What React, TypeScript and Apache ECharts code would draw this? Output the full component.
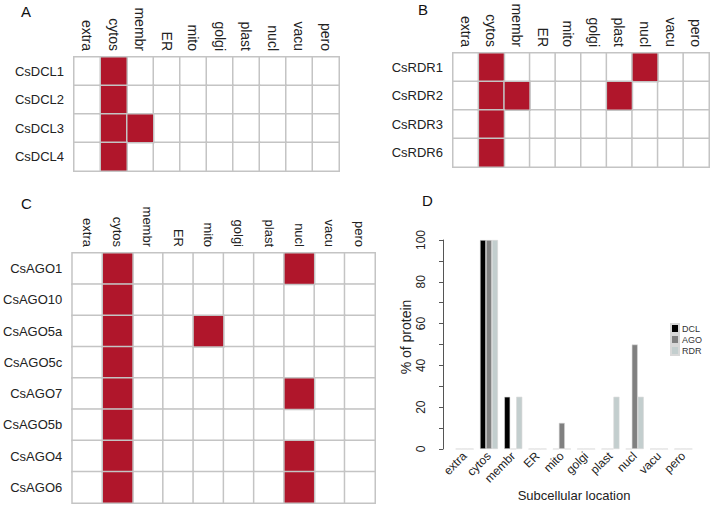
import React, { useEffect, useRef } from "react";
import * as echarts from "echarts";

const locations = ["extra", "cytos", "membr", "ER", "mito", "golgi", "plast", "nucl", "vacu", "pero"];

const dclGenes = ["CsDCL1", "CsDCL2", "CsDCL3", "CsDCL4"];
const dclMatrix = [
  [0, 1, 0, 0, 0, 0, 0, 0, 0, 0],
  [0, 1, 0, 0, 0, 0, 0, 0, 0, 0],
  [0, 1, 1, 0, 0, 0, 0, 0, 0, 0],
  [0, 1, 0, 0, 0, 0, 0, 0, 0, 0],
];

const rdrGenes = ["CsRDR1", "CsRDR2", "CsRDR3", "CsRDR6"];
const rdrMatrix = [
  [0, 1, 0, 0, 0, 0, 0, 1, 0, 0],
  [0, 1, 1, 0, 0, 0, 1, 0, 0, 0],
  [0, 1, 0, 0, 0, 0, 0, 0, 0, 0],
  [0, 1, 0, 0, 0, 0, 0, 0, 0, 0],
];

const agoGenes = ["CsAGO1", "CsAGO10", "CsAGO5a", "CsAGO5c", "CsAGO7", "CsAGO5b", "CsAGO4", "CsAGO6"];
const agoMatrix = [
  [0, 1, 0, 0, 0, 0, 0, 1, 0, 0],
  [0, 1, 0, 0, 0, 0, 0, 0, 0, 0],
  [0, 1, 0, 0, 1, 0, 0, 0, 0, 0],
  [0, 1, 0, 0, 0, 0, 0, 0, 0, 0],
  [0, 1, 0, 0, 0, 0, 0, 1, 0, 0],
  [0, 1, 0, 0, 0, 0, 0, 0, 0, 0],
  [0, 1, 0, 0, 0, 0, 0, 1, 0, 0],
  [0, 1, 0, 0, 0, 0, 0, 1, 0, 0],
];

const legendNames = ["DCL", "AGO", "RDR"];
const dclPercent = [0, 100, 25, 0, 0, 0, 0, 0, 0, 0];
const agoPercent = [0, 100, 0, 0, 12.5, 0, 0, 50, 0, 0];
const rdrPercent = [0, 100, 25, 0, 0, 0, 25, 25, 0, 0];

const RED = "#b0162b";
const FONT = "Liberation Sans, Arial, sans-serif";
const TXT = "#222";

function toCells(matrix: number[][]) {
  const out: number[][] = [];
  matrix.forEach((row, r) => row.forEach((v, c) => out.push([c, r, v])));
  out.sort((a, b) => a[2] - b[2]);
  return out;
}

export default function App() {
  const ref = useRef<HTMLDivElement>(null);
  useEffect(() => {
    if (!ref.current) return;
    const chart = echarts.init(ref.current, undefined, { renderer: "svg" });

    const grids = [
      { left: 74, top: 57, width: 265, height: 114 },
      { left: 453, top: 53, width: 256, height: 114 },
      { left: 69, top: 253, width: 306, height: 250 },
      { left: 452.5, top: 240, width: 243, height: 209 },
    ];
    const geneSets = [dclGenes, rdrGenes, agoGenes];
    const matrices = [dclMatrix, rdrMatrix, agoMatrix];
    const colFont = [14, 14, 13];

    const xAxes: any[] = [0, 1, 2].map((i) => ({
      type: "category",
      gridIndex: i,
      data: locations,
      position: "top",
      axisLine: { show: false },
      axisTick: { show: false },
      splitLine: { show: false },
      axisLabel: { rotate: 90, margin: 6, fontSize: colFont[i], color: TXT, fontFamily: FONT, interval: 0 },
    }));
    const yAxes: any[] = [0, 1, 2].map((i) => ({
      type: "category",
      gridIndex: i,
      data: geneSets[i],
      inverse: true,
      axisLine: { show: false },
      axisTick: { show: false },
      splitLine: { show: false },
      axisLabel: { margin: 10, fontSize: 13, color: TXT, fontFamily: FONT, interval: 0 },
    }));

    xAxes.push({
      type: "category",
      gridIndex: 3,
      data: locations,
      axisLine: { show: false },
      axisTick: { show: false },
      axisLabel: { rotate: 45, margin: 5, fontSize: 12, color: TXT, fontFamily: FONT, interval: 0 },
      name: "Subcellular location",
      nameLocation: "middle",
      nameGap: 40,
      nameMoveOverlap: false,
      nameTextStyle: { fontSize: 13, color: TXT, fontFamily: FONT },
    });
    yAxes.push({
      type: "value",
      gridIndex: 3,
      min: 0,
      max: 100,
      interval: 10,
      offset: 9.5,
      axisLine: { show: true, lineStyle: { color: "#555", width: 1 } },
      axisTick: { show: true, length: 4, lineStyle: { color: "#555" } },
      splitLine: { show: false },
      axisLabel: {
        rotate: 90,
        margin: 16,
        fontSize: 12,
        color: TXT,
        fontFamily: FONT,
        formatter: (v: number) => (v % 20 === 0 ? String(v) : ""),
      },
    });

    const heatSeries = [0, 1, 2].map((i) => ({
      type: "heatmap",
      xAxisIndex: i,
      yAxisIndex: i,
      data: toCells(matrices[i]),
      itemStyle: { borderColor: "#c4c4c4", borderWidth: 1.5 },
      emphasis: { disabled: true },
    }));

    const barColors = ["#000000", "#808080", "#c3cece"];
    const barData = [dclPercent, agoPercent, rdrPercent];
    const barSeries = [0, 1, 2].map((i) => ({
      type: "bar",
      name: legendNames[i],
      xAxisIndex: 3,
      yAxisIndex: 3,
      data: barData[i],
      barWidth: 6,
      barGap: "0%",
      itemStyle: { color: barColors[i], borderColor: "#d8d8d8", borderWidth: 0.6 },
    }));

    const letters = [
      { t: "A", x: 21, y: 4 },
      { t: "B", x: 418, y: 2 },
      { t: "C", x: 21, y: 196 },
      { t: "D", x: 422, y: 193 },
    ];

    const graphics: any[] = letters.map((l) => ({
      type: "text",
      left: l.x,
      top: l.y,
      style: { text: l.t, font: `15px ${FONT}`, fill: "#111" },
    }));
    graphics.push({
      type: "text",
      x: 406,
      y: 337,
      rotation: Math.PI / 2,
      style: {
        text: "% of protein",
        font: `14px ${FONT}`,
        fill: TXT,
        align: "center",
        verticalAlign: "middle",
      },
    });

    chart.setOption({
      animation: false,
      backgroundColor: "#ffffff",
      grid: grids,
      xAxis: xAxes,
      yAxis: yAxes,
      visualMap: {
        type: "piecewise",
        show: false,
        seriesIndex: [0, 1, 2],
        dimension: 2,
        pieces: [
          { value: 0, color: "#ffffff" },
          { value: 1, color: RED },
        ],
      },
      legend: {
        data: legendNames,
        orient: "vertical",
        left: 670,
        top: 323,
        itemWidth: 8,
        itemHeight: 9,
        itemGap: 0,
        padding: 0,
        icon: "rect",
        selectedMode: false,
        textStyle: { fontSize: 9, color: "#333", fontFamily: FONT, padding: [0, 0, 0, -2] },
      },
      graphic: graphics,
      series: [...heatSeries, ...barSeries],
    });
    return () => chart.dispose();
  }, []);
  return <div ref={ref} style={{ position: "fixed", left: 0, top: 0, width: 716, height: 513 }} />;
}
